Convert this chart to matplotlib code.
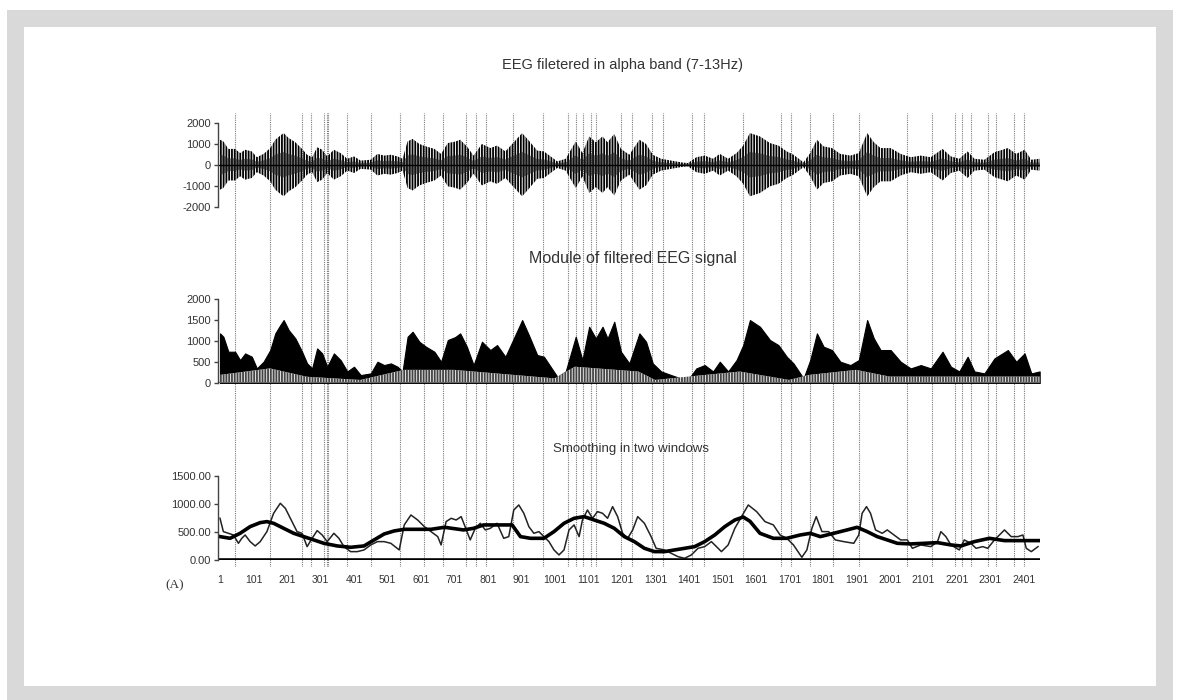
#!/usr/bin/env python3
import matplotlib

matplotlib.use("Agg")
import matplotlib.pyplot as plt  # noqa: E402
from matplotlib.patches import Rectangle  # noqa: E402


# sample positions of the marked events (dotted verticals)
EVENT_SAMPLES = [
    46, 150, 245, 272, 311, 319, 324, 379, 453, 538, 610, 667, 734, 764,
    795, 875, 966, 1041, 1064, 1085, 1110, 1123, 1197, 1230, 1290, 1324,
    1409, 1446, 1561, 1675, 1705, 1762, 1830, 1908, 2051, 2128, 2195, 2217,
    2242, 2294, 2317, 2371, 2401,
]

# peak amplitude of the alpha-band signal (|EEG|)
ENV_SAMPLES = [
    1, 11, 26, 46, 61, 76, 96, 111, 131, 151, 166, 181, 191, 206, 226, 246,
    261, 276, 291, 306, 321, 341, 361, 381, 401, 421, 451, 471, 491, 511,
    531, 546, 561, 576, 596, 616, 641, 661, 681, 703, 718, 738, 758, 783,
    808, 828, 853, 878, 903, 923, 948, 968, 988, 1008, 1033, 1063, 1083,
    1103, 1123, 1143, 1158, 1178, 1198, 1223, 1253, 1273, 1293, 1318, 1348,
    1383, 1398, 1423, 1448, 1473, 1493, 1518, 1543, 1563, 1583, 1613, 1643,
    1668, 1693, 1713, 1743, 1763, 1783, 1803, 1828, 1853, 1883, 1908, 1933,
    1953, 1973, 2003, 2033, 2063, 2093, 2123, 2158, 2183, 2208, 2233, 2253,
    2283, 2313, 2353, 2378, 2403, 2423, 2448,
]
ENV_VALUES = [
    1189, 1109, 752, 752, 553, 712, 633, 355, 514, 792, 1189, 1387, 1506,
    1268, 1069, 752, 474, 355, 831, 712, 395, 712, 553, 283, 395, 196, 236,
    514, 434, 474, 395, 283, 1109, 1228, 990, 871, 752, 514, 1030, 1100,
    1189, 871, 434, 990, 792, 911, 633, 1069, 1506, 1148, 673, 633, 395,
    156, 283, 1109, 553, 1347, 1069, 1347, 1069, 1466, 752, 474, 1189, 990,
    474, 283, 196, 100, 80, 355, 434, 283, 514, 283, 553, 911, 1506, 1347,
    1030, 911, 633, 474, 117, 553, 1189, 871, 792, 514, 434, 553, 1506,
    1069, 792, 792, 514, 355, 434, 355, 752, 395, 283, 633, 283, 236, 593,
    792, 514, 712, 236, 283,
]

# lower edge of the solid part of the module trace
FLOOR_SAMPLES = [1, 150, 260, 420, 550, 700, 1000, 1060, 1250, 1300, 1450,
                 1553, 1700, 1760, 1900, 2000, 2448]
FLOOR_VALUES = [200, 355, 156, 80, 320, 320, 117, 395, 280, 80, 200, 280,
                80, 200, 320, 160, 160]

# short-window moving average
SHORT_SAMPLES = [
    1, 11, 26, 41, 56, 66, 76, 91, 106, 121, 141, 161, 181, 196, 211, 231,
    246, 261, 276, 291, 306, 321, 341, 356, 371, 391, 411, 431, 451, 471,
    491, 511, 536, 551, 571, 591, 611, 631, 651, 661, 676, 691, 706, 721,
    748, 763, 778, 793, 808, 828, 848, 863, 878, 893, 908, 923, 938, 953,
    968, 983, 998, 1013, 1028, 1043, 1058, 1073, 1083, 1098, 1113, 1128,
    1143, 1158, 1173, 1188, 1203, 1218, 1233, 1248, 1268, 1288, 1303, 1328,
    1348, 1368, 1388, 1408, 1428, 1448, 1468, 1483, 1498, 1518, 1538, 1558,
    1578, 1603, 1628, 1653, 1673, 1693, 1713, 1738, 1753, 1768, 1781, 1798,
    1818, 1838, 1863, 1893, 1908, 1918, 1931, 1943, 1958, 1978, 1993, 2013,
    2033, 2053, 2068, 2093, 2123, 2143, 2153, 2168, 2183, 2208, 2223, 2243,
    2258, 2278, 2293, 2313, 2343, 2363, 2383, 2398, 2408, 2423, 2443,
]
SHORT_VALUES = [
    742, 505, 475, 445, 297, 386, 445, 327, 250, 327, 505, 831, 1009, 920,
    742, 505, 475, 238, 386, 523, 445, 327, 475, 386, 238, 149, 149, 179,
    268, 327, 327, 297, 179, 624, 801, 712, 594, 505, 416, 268, 683, 742,
    712, 772, 357, 564, 653, 535, 564, 653, 386, 416, 890, 979, 831, 594,
    475, 505, 416, 327, 179, 90, 179, 535, 624, 416, 712, 890, 742, 861,
    831, 742, 950, 772, 475, 386, 535, 772, 653, 416, 208, 179, 120, 60, 30,
    90, 208, 238, 327, 238, 149, 268, 564, 772, 979, 861, 683, 624, 445,
    386, 268, 48, 179, 564, 772, 505, 505, 357, 327, 297, 445, 831, 950,
    831, 535, 475, 535, 445, 357, 357, 208, 268, 238, 327, 505, 416, 268,
    179, 357, 297, 208, 238, 208, 357, 535, 416, 416, 445, 208, 149, 238,
]

# long-window moving average
LONG_SAMPLES = [
    1, 31, 61, 91, 121, 141, 161, 191, 221, 251, 281, 311, 351, 391, 431,
    461, 491, 521, 551, 591, 631, 671, 728, 758, 788, 828, 873, 898, 928,
    968, 998, 1028, 1058, 1088, 1118, 1148, 1178, 1208, 1238, 1268, 1298,
    1328, 1358, 1388, 1418, 1448, 1478, 1508, 1538, 1563, 1583, 1613, 1653,
    1693, 1733, 1763, 1793, 1833, 1873, 1903, 1933, 1963, 1993, 2023, 2063,
    2103, 2143, 2183, 2213, 2253, 2298, 2343, 2383, 2423, 2448,
]
LONG_VALUES = [
    416, 386, 475, 594, 665, 683, 653, 564, 475, 416, 357, 297, 250, 226,
    250, 357, 463, 517, 546, 546, 546, 582, 535, 564, 624, 624, 624, 416,
    386, 386, 505, 653, 742, 772, 712, 653, 564, 416, 327, 208, 149, 149,
    179, 208, 238, 327, 445, 594, 712, 765, 690, 475, 386, 386, 445, 475,
    416, 475, 535, 582, 505, 416, 357, 297, 286, 297, 309, 268, 250, 327,
    386, 345, 345, 345, 345,
]

X_TICKS = list(range(1, 2402, 100))
X_RANGE = (-5, 2449)

TEXT_COLOR = "#333333"
EVENT_COLOR = "#7a7a7a"

W, H = 1180, 700
LEFT_PX, RIGHT_PX = 218, 1040


def fig_box(top_px, bottom_px):
    return [LEFT_PX / W, 1 - bottom_px / H, (RIGHT_PX - LEFT_PX) / W,
            (bottom_px - top_px) / H]


def setup_axes(ax, ylim, yticks, ylabels):
    ax.set_facecolor("none")
    ax.set_xlim(*X_RANGE)
    ax.set_ylim(*ylim)
    for side in ("top", "right", "bottom"):
        ax.spines[side].set_visible(False)
    ax.spines["left"].set_color("#444444")
    ax.spines["left"].set_linewidth(1.0)
    ax.set_yticks(yticks)
    ax.set_yticklabels(ylabels)
    ax.tick_params(axis="y", direction="out", length=3, width=1.0,
                   color="#444444", labelsize=8, labelcolor=TEXT_COLOR, pad=2)
    ax.set_xticks([])


def draw_frame(fig):
    fig.patches.append(Rectangle((7 / W, 0), 1166 / W, 1 - 10 / H,
                                 transform=fig.transFigure,
                                 facecolor="#d9d9d9", edgecolor="none",
                                 zorder=-10))
    fig.patches.append(Rectangle((24 / W, 14 / H), 1132 / W, 1 - 41 / H,
                                 transform=fig.transFigure,
                                 facecolor="white", edgecolor="none",
                                 zorder=-9))


def main():
    plt.rcParams["font.family"] = ["Liberation Sans", "DejaVu Sans"]
    plt.rcParams["hatch.linewidth"] = 1.3

    fig = plt.figure(figsize=(W / 100, H / 100), dpi=100)
    fig.patch.set_facecolor("white")
    draw_frame(fig)

    # event markers run through all three panels
    ax_ev = fig.add_axes(fig_box(113, 567), zorder=0)
    ax_ev.set_xlim(*X_RANGE)
    ax_ev.set_ylim(0, 1)
    ax_ev.axis("off")
    for s in EVENT_SAMPLES:
        ax_ev.axvline(s, color=EVENT_COLOR, linestyle=(0, (1, 1)), lw=0.8)

    # filtered signal
    ax1 = fig.add_axes(fig_box(122.7, 206.7), zorder=1)
    setup_axes(ax1, (-2000, 2000), [-2000, -1000, 0, 1000, 2000],
               ["-2000", "-1000", "0", "1000", "2000"])
    neg = [-v for v in ENV_VALUES]
    ax1.fill_between(ENV_SAMPLES, neg, ENV_VALUES, facecolor="none",
                     edgecolor="black", hatch="||||||", linewidth=0)
    ax1.fill_between(ENV_SAMPLES, [v * 0.4 for v in neg],
                     [v * 0.4 for v in ENV_VALUES], facecolor="#222222",
                     edgecolor="none", alpha=0.6)
    ax1.axhline(0, color="black", lw=1.0)

    # module of the signal
    ax2 = fig.add_axes(fig_box(299.3, 383.3), zorder=1)
    setup_axes(ax2, (0, 2000), [0, 500, 1000, 1500, 2000],
               ["0", "500", "1000", "1500", "2000"])
    ax2.fill_between(ENV_SAMPLES, 0, ENV_VALUES, facecolor="black",
                     edgecolor="black", linewidth=0.8)
    ax2.fill_between(FLOOR_SAMPLES, 0, FLOOR_VALUES, facecolor="#e8e8e8",
                     edgecolor="#444444", hatch="||||||", linewidth=0)
    ax2.axhline(0, color="#666666", lw=1.6)

    # two moving averages
    ax3 = fig.add_axes(fig_box(475.7, 560), zorder=1)
    setup_axes(ax3, (0, 1500), [0, 500, 1000, 1500],
               ["0.00", "500.00", "1000.00", "1500.00"])
    ax3.plot(SHORT_SAMPLES, SHORT_VALUES, color="#222222", lw=1.1)
    ax3.plot(LONG_SAMPLES, LONG_VALUES, color="black", lw=2.6)
    ax3.axhline(0, color="black", lw=2.6)
    for s in X_TICKS:
        ax3.text(s, -350, str(s), ha="center", va="center", fontsize=7.5,
                 color=TEXT_COLOR)

    fig.text(622 / W, 1 - 65 / H, "EEG filetered in alpha band (7-13Hz)",
             ha="center", va="center", fontsize=10.5, color=TEXT_COLOR)
    fig.text(633 / W, 1 - 258 / H, "Module of filtered EEG signal",
             ha="center", va="center", fontsize=11.5, color=TEXT_COLOR)
    fig.text(631 / W, 1 - 449 / H, "Smoothing in two windows",
             ha="center", va="center", fontsize=9.5, color=TEXT_COLOR)
    fig.text(175 / W, 1 - 585 / H, "(A)", ha="center", va="center",
             fontsize=9.5, color=TEXT_COLOR, family="Liberation Serif")

    fig.savefig("out.png", dpi=100, facecolor="white")
    plt.close(fig)


if __name__ == "__main__":
    main()
